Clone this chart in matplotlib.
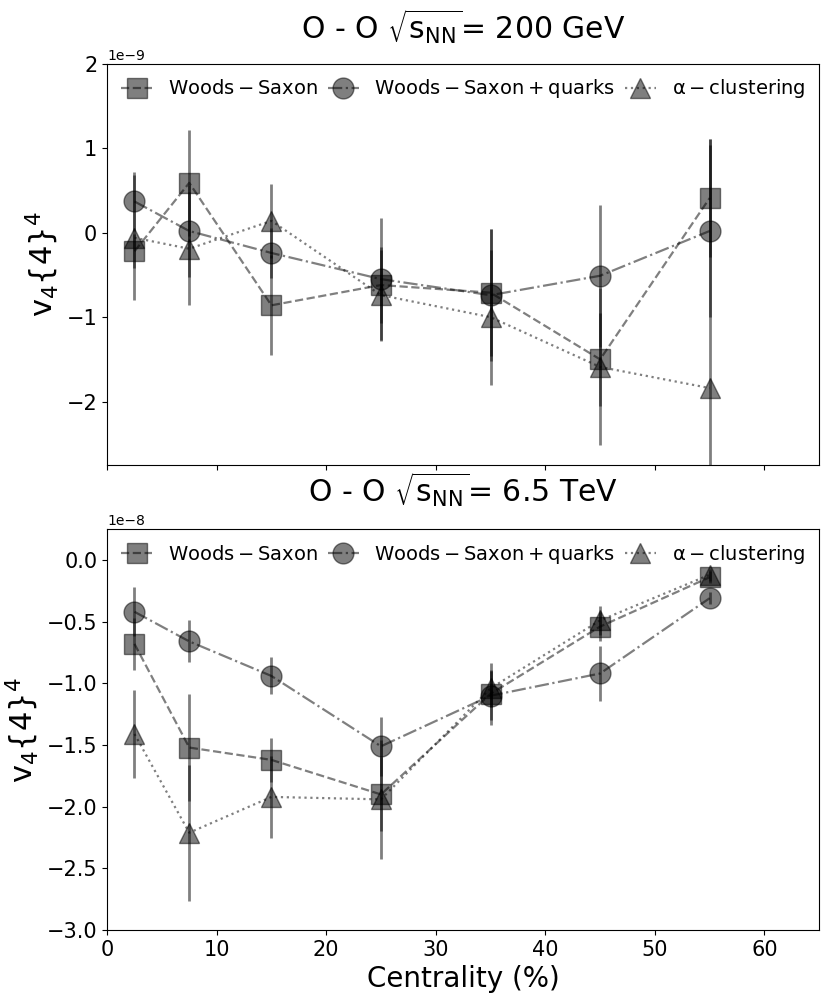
import numpy as np
import matplotlib
matplotlib.use("Agg")
import matplotlib.pyplot as plt

plt.rcParams['mathtext.default'] = 'regular'

centrality = [2.5, 7.5, 15, 25, 35, 45, 55]

# O-O 200 GeV (units 1e-9)
ws_200 = [-0.22, 0.59, -0.86, -0.62, -0.71, -1.50, 0.41]
ws_200_err = [0.20, 0.63, 0.59, 0.45, 0.75, 0.55, 0.70]
wsq_200 = [0.37, 0.02, -0.24, -0.55, -0.74, -0.51, 0.02]
wsq_200_err = [0.35, 0.55, 0.30, 0.72, 0.78, 0.84, 1.02]
alpha_200 = [-0.06, -0.19, 0.14, -0.74, -1.00, -1.59, -1.84]
alpha_200_err = [0.74, 0.67, 0.44, 0.54, 0.80, 0.93, 2.95]

# O-O 6.5 TeV (units 1e-8)
ws_65 = [-0.68, -1.52, -1.62, -1.90, -1.085, -0.54, -0.14]
ws_65_err = [0.21, 0.43, 0.18, 0.30, 0.25, 0.12, 0.05]
wsq_65 = [-0.42, -0.66, -0.94, -1.51, -1.10, -0.92, -0.31]
wsq_65_err = [0.20, 0.17, 0.15, 0.24, 0.20, 0.22, 0.05]
alpha_65 = [-1.41, -2.21, -1.92, -1.94, -1.04, -0.49, -0.12]
alpha_65_err = [0.36, 0.55, 0.33, 0.48, 0.15, 0.12, 0.05]

labels = [r'$\mathrm{Woods-Saxon}$', r'$\mathrm{Woods-Saxon+quarks}$',
          r'$\alpha-\mathrm{clustering}$']

fig, (ax1, ax2) = plt.subplots(2, 1, figsize=(8.3, 9.97), dpi=100, sharex=True)
fig.subplots_adjust(left=0.129, right=0.987, top=0.936, bottom=0.067, hspace=0.16)


def draw(ax, scale, ws, ws_e, wsq, wsq_e, al, al_e):
    x = np.array(centrality)
    kw = dict(color='k', alpha=0.5, markersize=15, elinewidth=2, lw=1.6)
    h1 = ax.errorbar(x, np.array(ws) * scale, yerr=np.array(ws_e) * scale,
                     fmt='s--', **kw)
    h2 = ax.errorbar(x, np.array(wsq) * scale, yerr=np.array(wsq_e) * scale,
                     fmt='o-.', **kw)
    h3 = ax.errorbar(x, np.array(al) * scale, yerr=np.array(al_e) * scale,
                     fmt='^:', **kw)
    ax.legend([h1[0], h2[0], h3[0]], labels, loc='upper center', ncol=3,
              frameon=False, fontsize=14, handlelength=1.6,
              columnspacing=0.5, handletextpad=0.8, borderaxespad=0.3)
    ax.tick_params(labelsize=15)
    ax.yaxis.get_offset_text().set_fontsize(10)
    ax.set_ylabel(r'$v_4\{4\}^4$', fontsize=22)


draw(ax1, 1e-9, ws_200, ws_200_err, wsq_200, wsq_200_err, alpha_200, alpha_200_err)
draw(ax2, 1e-8, ws_65, ws_65_err, wsq_65, wsq_65_err, alpha_65, alpha_65_err)

ax1.set_ylim(-2.75e-9, 2e-9)
ax1.set_yticks(np.arange(-2, 2.5, 1) * 1e-9)
ax1.set_title(r'O - O $\sqrt{s_{NN}}$= 200 GeV', fontsize=21.5, pad=17)
ax2.set_ylim(-3.0e-8, 0.25e-8)
ax2.set_yticks(np.arange(-3.0, 0.25, 0.5) * 1e-8)
ax2.set_title(r'O - O $\sqrt{s_{NN}}$= 6.5 TeV', fontsize=21.5, pad=19)
ax2.set_xlim(0, 65)
ax2.set_xlabel('Centrality (%)', fontsize=20)

fig.savefig('out.png', dpi=100)
